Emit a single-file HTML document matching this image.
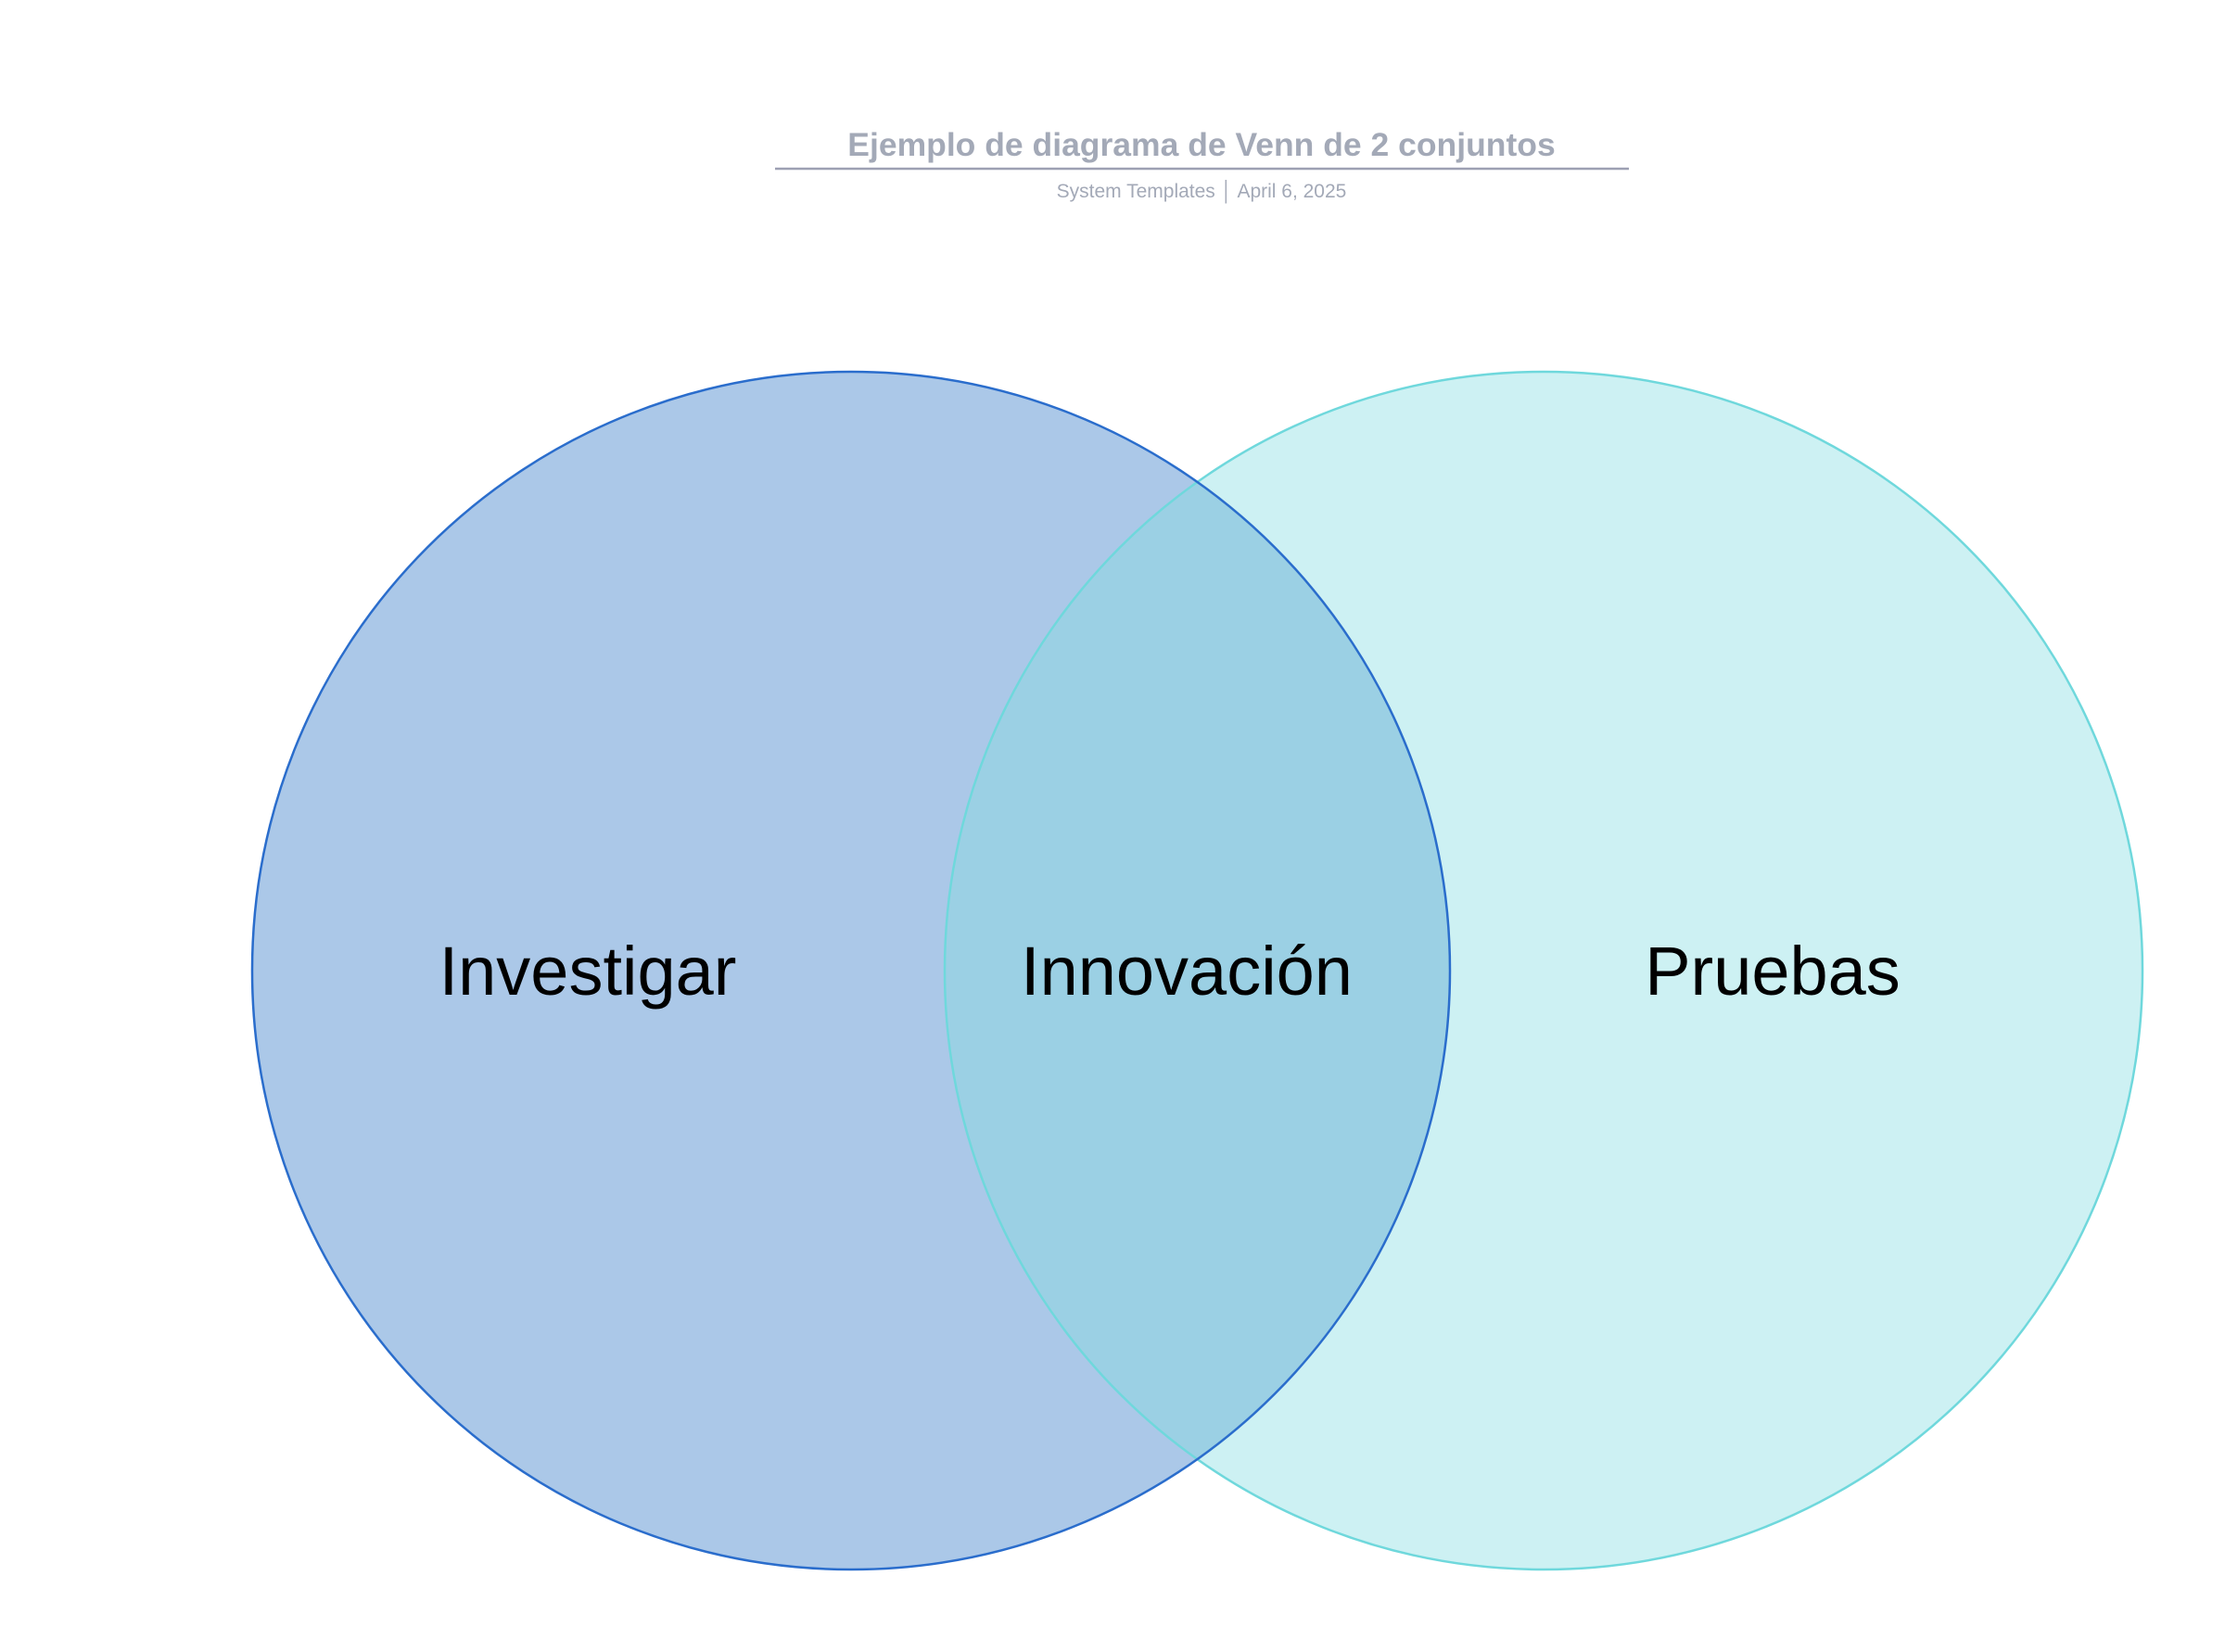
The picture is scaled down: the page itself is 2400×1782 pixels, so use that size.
<!DOCTYPE html>
<html><head><meta charset="utf-8"><style>
html,body{margin:0;padding:0;background:#fff}
svg{display:block}
</style></head><body>
<svg width="2400" height="1782" viewBox="0 0 2400 1782" xmlns="http://www.w3.org/2000/svg">
<defs>
<clipPath id="cl"><circle cx="918" cy="1047" r="646"/></clipPath>
</defs>
<text x="1296" y="168" text-anchor="middle" font-family="Liberation Sans, sans-serif" font-weight="bold" font-size="35.5" fill="#a3a9b7">Ejemplo de diagrama de Venn de 2 conjuntos</text>
<line x1="836" y1="182" x2="1757" y2="182" stroke="#9da0b3" stroke-width="2.5"/>
<text x="1296" y="213" text-anchor="middle" font-family="Liberation Sans, sans-serif" font-size="21" fill="#a3a9b7">System Templates  │  April 6, 2025</text>
<circle cx="1665" cy="1047" r="646" fill="#cdf1f3"/>
<circle cx="918" cy="1047" r="646" fill="#abc8e8"/>
<circle cx="1665" cy="1047" r="646" fill="#9bd0e4" clip-path="url(#cl)"/>
<circle cx="1665" cy="1047" r="646" fill="none" stroke="#6fd8dc" stroke-width="2.5"/>
<circle cx="918" cy="1047" r="646" fill="none" stroke="#2a6dcc" stroke-width="2.5"/>
<g font-family="Liberation Sans, sans-serif" font-size="74" fill="#000" text-anchor="middle">
<text x="634" y="1073">Investigar</text>
<text x="1280" y="1073">Innovación</text>
<text x="1912" y="1073">Pruebas</text>
</g>
</svg>
</body></html>
